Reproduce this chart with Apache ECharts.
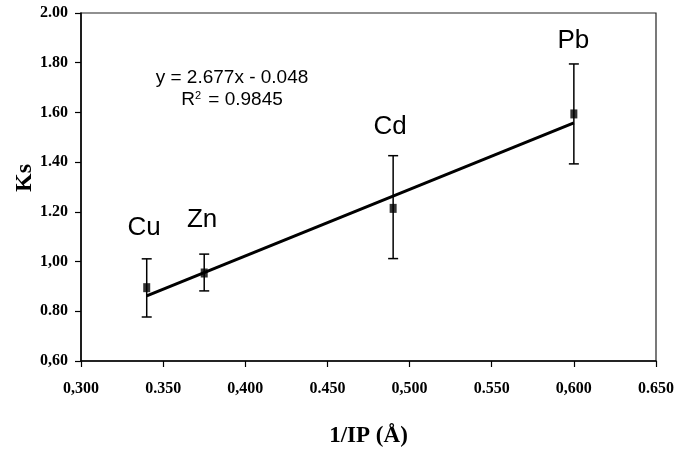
<!DOCTYPE html>
<html>
<head>
<meta charset="utf-8">
<script src="https://cdn.jsdelivr.net/npm/echarts@6/dist/echarts.min.js"></script>
<style>html,body{margin:0;padding:0;background:#fff;}#c{width:689px;height:462px;}</style>
</head>
<body>
<div id="c"></div>
<script>
var elements = ['Cu', 'Zn', 'Cd', 'Pb'];
var xValues = [0.340, 0.375, 0.490, 0.600];
var ksValues = [0.895, 0.954, 1.214, 1.594];
var errLow = [0.777, 0.882, 1.012, 1.393];
var errHigh = [1.011, 1.030, 1.426, 1.795];
var labelX = [0.3384, 0.3737, 0.4882, 0.5997];
var labelY = [1.134, 1.166, 1.541, 1.889];
var trendX = [0.340, 0.600];
var trendY = [0.862, 1.558];
var xTickLabels = ['0,300', '0.350', '0,400', '0.450', '0,500', '0.550', '0,600', '0.650'];
var yTickLabels = ['0,60', '0.80', '1,00', '1.20', '1.40', '1.60', '1.80', '2.00'];
var equationText = 'y = 2.677x - 0.048';
var r2Text = 'R{s|2} = 0.9845';

var chart = echarts.init(document.getElementById('c'));
var tickFont = {fontFamily: 'Liberation Serif', fontWeight: 'bold', fontSize: 16, color: '#000'};

chart.setOption({
  animation: false,
  backgroundColor: '#fff',
  grid: {left: 81, right: 33, top: 13, bottom: 101, show: true, borderColor: '#222', borderWidth: 1.2},
  xAxis: {
    type: 'value', min: 0.3, max: 0.65, interval: 0.05,
    splitLine: {show: false},
    axisLine: {show: true, lineStyle: {color: '#000', width: 1.5}},
    axisTick: {show: true, inside: false, length: 6, lineStyle: {color: '#000', width: 1.2}},
    axisLabel: Object.assign({margin: 20, formatter: function (v) {
      return xTickLabels[Math.round((v - 0.3) / 0.05)];
    }}, tickFont),
    name: '1/IP (Å)', nameLocation: 'middle', nameGap: 64,
    nameTextStyle: {fontFamily: 'Liberation Serif', fontWeight: 'bold', fontSize: 23, color: '#000'}
  },
  yAxis: {
    type: 'value', min: 0.6, max: 2.0, interval: 0.2,
    splitLine: {show: false},
    axisLine: {show: true, lineStyle: {color: '#000', width: 1.5}},
    axisTick: {show: true, inside: false, length: 6, lineStyle: {color: '#000', width: 1.2}},
    axisLabel: Object.assign({margin: 13, formatter: function (v) {
      return yTickLabels[Math.round((v - 0.6) / 0.2)];
    }}, tickFont)
  },
  graphic: [
    {type: 'text', x: 232, y: 78, style: {text: equationText, font: '19px "Liberation Sans"', fill: '#000', align: 'center', verticalAlign: 'middle'}},
    {type: 'text', x: 232, y: 100, style: {text: r2Text, font: '19px "Liberation Sans"', fill: '#000', align: 'center', verticalAlign: 'middle',
      rich: {s: {fontSize: 11, verticalAlign: 'top', padding: [0, 2, 9, 0], fontFamily: 'Liberation Sans'}}}},
    {type: 'text', x: 25, y: 178, rotation: Math.PI / 2,
      style: {text: 'Ks', font: 'bold 24px "Liberation Serif"', fill: '#000', align: 'center', verticalAlign: 'middle'}}
  ],
  series: [
    {
      type: 'line',
      data: trendX.map(function (x, i) { return [x, trendY[i]]; }),
      showSymbol: false, symbol: 'none',
      lineStyle: {color: '#000', width: 3},
      z: 2
    },
    {
      type: 'custom',
      renderItem: function (params, api) {
        var x = api.value(0);
        var lo = api.coord([x, api.value(1)]);
        var hi = api.coord([x, api.value(2)]);
        var w = 5;
        var st = {stroke: '#000', lineWidth: 1.5};
        return {
          type: 'group',
          children: [
            {type: 'line', shape: {x1: lo[0], y1: lo[1], x2: hi[0], y2: hi[1]}, style: st},
            {type: 'line', shape: {x1: lo[0] - w, y1: lo[1], x2: lo[0] + w, y2: lo[1]}, style: st},
            {type: 'line', shape: {x1: hi[0] - w, y1: hi[1], x2: hi[0] + w, y2: hi[1]}, style: st}
          ]
        };
      },
      data: xValues.map(function (x, i) { return [x, errLow[i], errHigh[i]]; }),
      z: 3
    },
    {
      type: 'scatter',
      data: xValues.map(function (x, i) { return [x, ksValues[i]]; }),
      symbol: 'rect', symbolSize: [7, 9],
      itemStyle: {color: '#000'},
      z: 4
    },
    {
      type: 'custom',
      renderItem: function (params, api) {
        var p = api.coord([api.value(0), api.value(1)]);
        return {
          type: 'text', x: p[0], y: p[1],
          style: {text: elements[params.dataIndex], font: '26px "Liberation Sans"', fill: '#000', align: 'center', verticalAlign: 'middle'}
        };
      },
      data: labelX.map(function (x, i) { return [x, labelY[i]]; }),
      silent: true,
      z: 5
    }
  ]
});
</script>
</body>
</html>
